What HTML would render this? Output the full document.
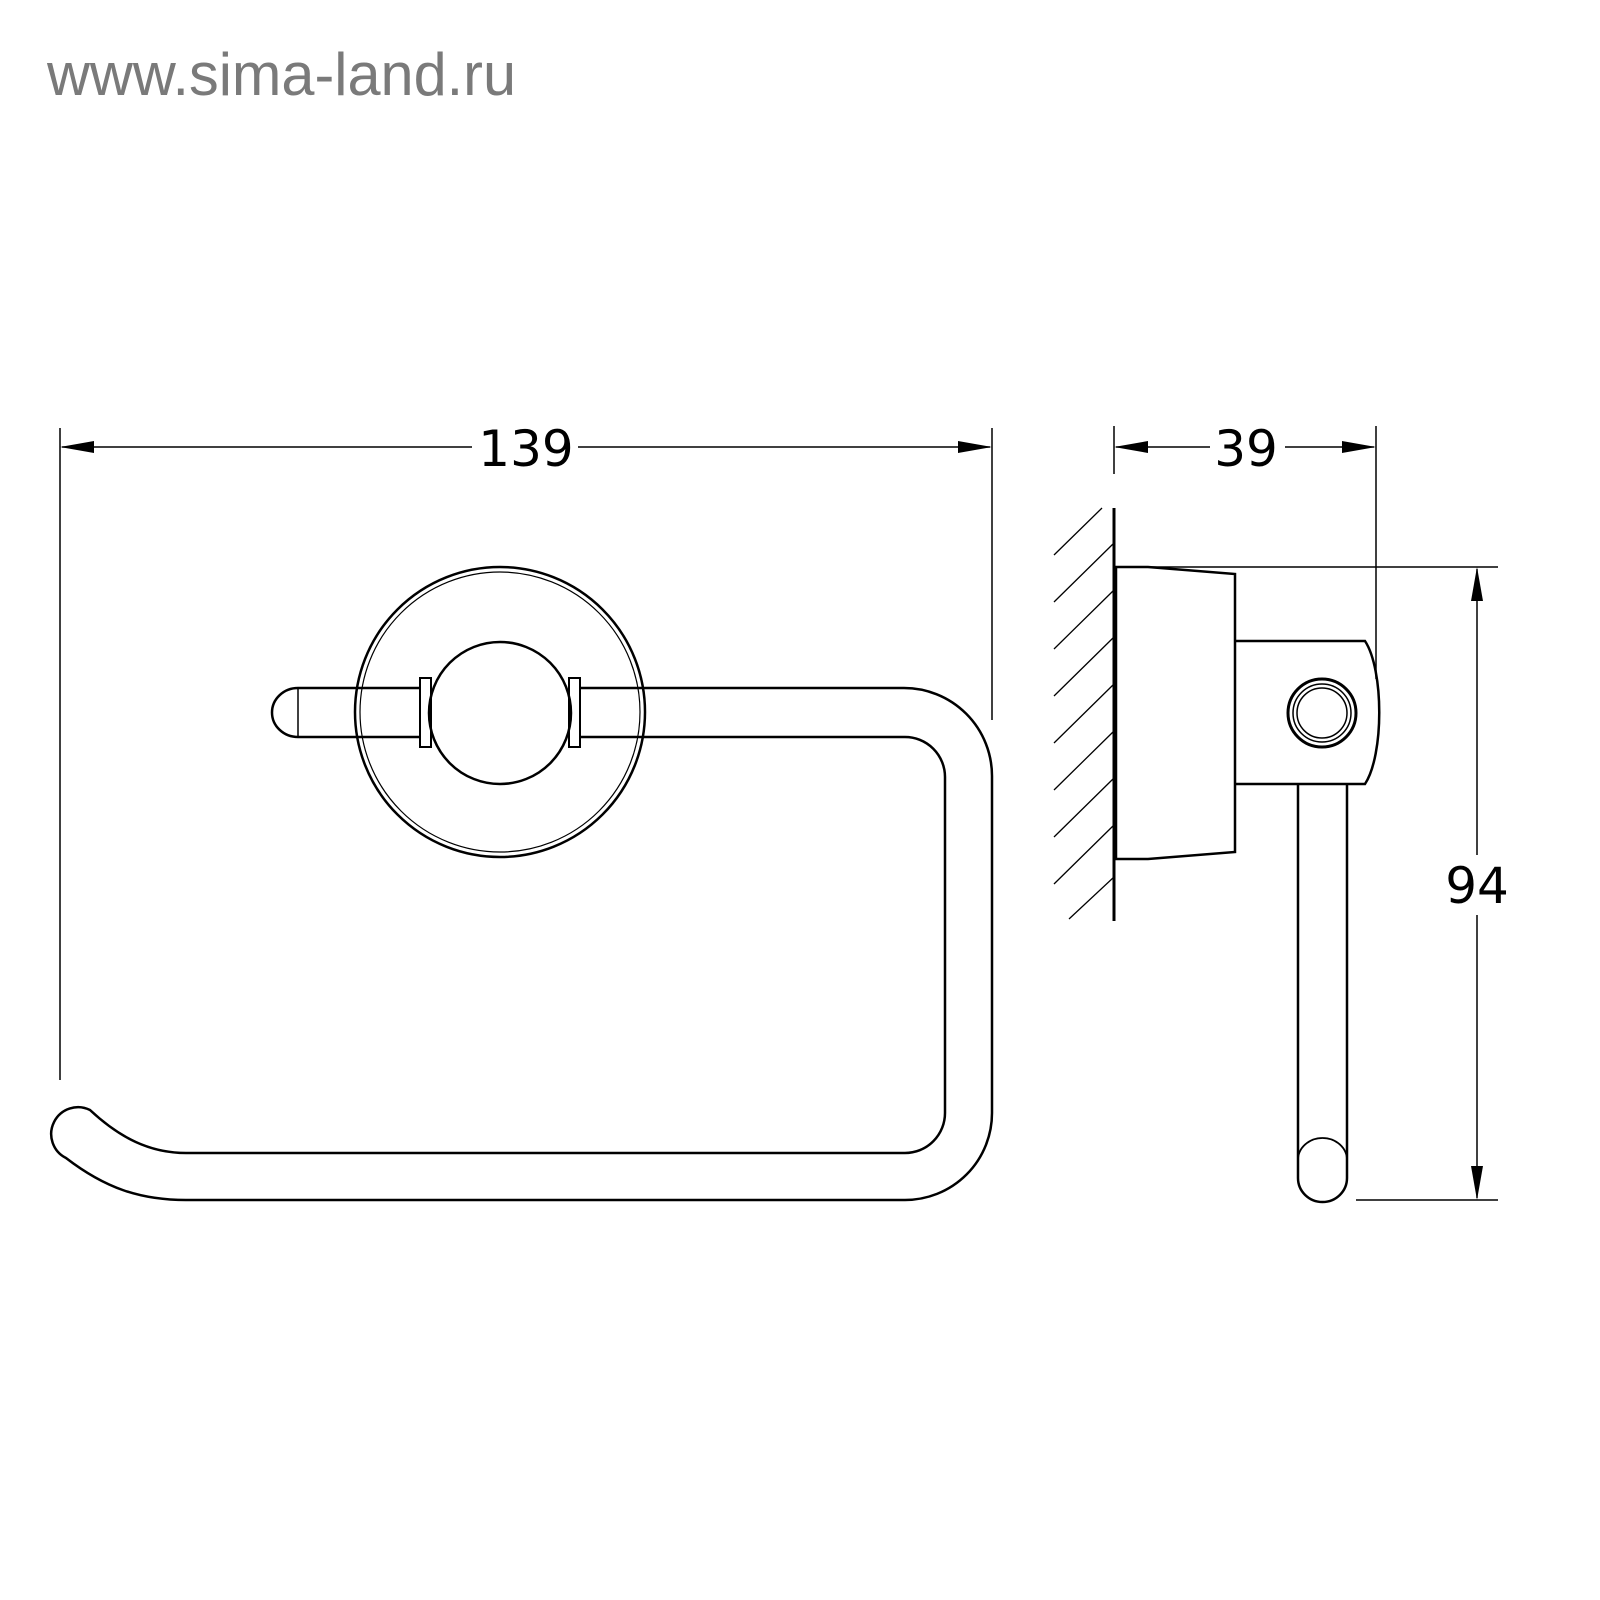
<!DOCTYPE html>
<html><head><meta charset="utf-8"><style>
html,body{margin:0;padding:0;background:#fff;width:1600px;height:1600px;overflow:hidden}
</style></head><body>
<svg width="1600" height="1600" viewBox="0 0 1600 1600" xmlns="http://www.w3.org/2000/svg">
<text x="47" y="95" font-family="Liberation Sans, sans-serif" font-size="60" fill="#7a7a7a" textLength="469" lengthAdjust="spacingAndGlyphs">www.sima-land.ru</text>
<g fill="none" stroke="#000" stroke-width="1.5">
<line x1="60" y1="428" x2="60" y2="1080"/>
<line x1="992" y1="428" x2="992" y2="720"/>
<line x1="62" y1="447" x2="472" y2="447"/>
<line x1="578" y1="447" x2="990" y2="447"/>
</g>
<polygon points="60,447 94,441 94,453" fill="#000"/>
<polygon points="992,447 958,441 958,453" fill="#000"/>
<text x="526" y="466" font-family="DejaVu Sans, sans-serif" font-size="50" text-anchor="middle" fill="#000">139</text>
<g fill="none" stroke="#000" stroke-width="2.5">
<circle cx="500" cy="712" r="145"/>
<circle cx="500" cy="712" r="140" stroke-width="1.2"/>
<path d="M298,688 L420,688 M298,737 L420,737"/>
<path d="M298,688 A26,24.5 0 0 0 298,737"/>
<line x1="298" y1="688" x2="298" y2="737" stroke-width="1.5"/>
<rect x="420" y="678" width="11" height="69" stroke-width="2"/>
<rect x="569" y="678" width="11" height="69" stroke-width="2"/>
<circle cx="500" cy="713" r="71"/>
<path d="M580,688 L904,688 A88,88 0 0 1 992,776 L992,1113 A87,87 0 0 1 905,1200 L186,1200 C140,1200 105,1188 66,1158 A20,20 0 0 1 90,1110 C120,1138 150,1153 186,1153 L905,1153 A40,40 0 0 0 945,1113 L945,777 A40,40 0 0 0 905,737 L580,737"/>
</g>
<g fill="none" stroke="#000" stroke-width="1.5">
<line x1="1114" y1="426" x2="1114" y2="474"/>
<line x1="1376" y1="426" x2="1376" y2="679"/>
<line x1="1116" y1="447" x2="1210" y2="447"/>
<line x1="1285" y1="447" x2="1374" y2="447"/>
<line x1="1148" y1="567" x2="1498" y2="567"/>
<line x1="1356" y1="1200" x2="1498" y2="1200"/>
<line x1="1477" y1="569" x2="1477" y2="855"/>
<line x1="1477" y1="915" x2="1477" y2="1198"/>
<g stroke-width="1.3">
<line x1="1054" y1="555" x2="1102" y2="508"/>
<line x1="1054" y1="602" x2="1114" y2="543"/>
<line x1="1054" y1="649" x2="1114" y2="590"/>
<line x1="1054" y1="696" x2="1114" y2="637"/>
<line x1="1054" y1="743" x2="1114" y2="684"/>
<line x1="1054" y1="790" x2="1114" y2="731"/>
<line x1="1054" y1="837" x2="1114" y2="778"/>
<line x1="1054" y1="884" x2="1114" y2="825"/>
<line x1="1069" y1="919" x2="1114" y2="877"/>
</g>
</g>
<polygon points="1114,447 1148,441 1148,453" fill="#000"/>
<polygon points="1376,447 1342,441 1342,453" fill="#000"/>
<polygon points="1477,567 1471,601 1483,601" fill="#000"/>
<polygon points="1477,1200 1471,1166 1483,1166" fill="#000"/>
<text x="1246" y="466" font-family="DejaVu Sans, sans-serif" font-size="50" text-anchor="middle" fill="#000">39</text>
<text x="1477" y="903" font-family="DejaVu Sans, sans-serif" font-size="50" text-anchor="middle" fill="#000">94</text>
<g fill="none" stroke="#000" stroke-width="2.5">
<line x1="1114" y1="508" x2="1114" y2="921" stroke-width="3"/>
<polygon points="1116,567 1148,567 1235,574 1235,852 1148,859 1116,859"/>
<path d="M1235,641 L1365,641 C1384,670 1384,755 1365,784 L1235,784"/>
<path d="M1298,784 L1298,1178 A24.5,24 0 0 0 1347,1178 L1347,784"/>
<path d="M1298,1160 A24.5,22 0 0 1 1347,1160" stroke-width="1.8"/>
<circle cx="1322" cy="713" r="34" stroke-width="3"/>
<circle cx="1322" cy="713" r="29" stroke-width="1.5"/>
<circle cx="1322" cy="713" r="25" stroke-width="1.5"/>
</g>
</svg>
</body></html>
